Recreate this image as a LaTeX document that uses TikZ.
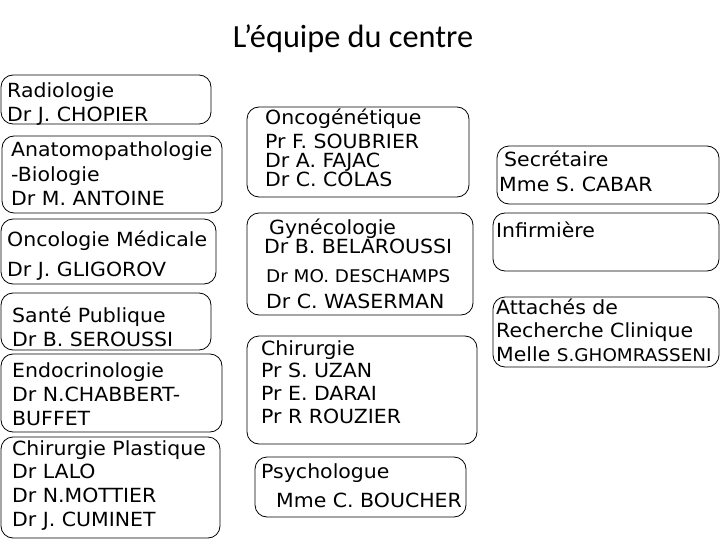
\documentclass[tikz,border=0pt]{standalone}
\usepackage{fontspec}
\setmainfont[FakeStretch=1.05]{DejaVu Sans}
\newfontfamily\titlefont{Carlito}
\usetikzlibrary{positioning}

\begin{document}
\begin{tikzpicture}[x=1pt,y=-1pt,
    box/.style={draw=black, line width=0.8pt, rounded corners=12pt},
    ln/.style={anchor=base west, inner sep=0pt, font=\fontsize{19.5}{23}\selectfont},
    lnsmall/.style={anchor=base west, inner sep=0pt, font=\fontsize{17.5}{21}\selectfont}]
    \useasboundingbox (0,0) rectangle (720,540);
    \fill[white] (0,0) rectangle (720,540);

    % titre
    \node[anchor=base, inner sep=0pt, font=\titlefont\fontsize{32.3}{38}\selectfont] (title) at (353,48) {L’équipe du centre};

    % 1. colonne gauche
    \draw[box] (1,75) rectangle (211,124);
    \node[ln] (radio1) at (7,98) {Radiologie};
    \node[ln] (radio2) at (7,122) {Dr J. CHOPIER};

    \draw[box] (2,136) rectangle (222,213);
    \node[ln] (anapath1) at (11,157) {Anatomopathologie};
    \node[ln] (anapath2) at (11,182) {-Biologie};
    \node[ln] (anapath3) at (11,206) {Dr M. ANTOINE};

    \draw[box] (1,219) rectangle (216,284);
    \node[ln] (oncomed1) at (7,246) {Oncologie Médicale};
    \node[ln] (oncomed2) at (7,276) {Dr J. GLIGOROV};

    \draw[box] (1,293) rectangle (211,350);
    \node[ln] (sante1) at (12,322) {Santé Publique};
    \node[ln] (sante2) at (12,346) {Dr B. SEROUSSI};

    \draw[box] (1,354) rectangle (222,432);
    \node[ln] (endo1) at (12,377) {Endocrinologie};
    \node[ln] (endo2) at (12,401) {Dr N.CHABBERT-};
    \node[ln] (endo3) at (12,425) {BUFFET};

    \draw[box] (1,437) rectangle (220,538);
    \node[ln] (plast1) at (12,455) {Chirurgie Plastique};
    \node[ln] (plast2) at (12,478) {Dr LALO};
    \node[ln] (plast3) at (12,502) {Dr N.MOTTIER};
    \node[ln] (plast4) at (12,526) {Dr J. CUMINET};

    % 2. colonne centrale
    \draw[box] (247,107) rectangle (469,197);
    \node[ln] (gen1) at (265,125) {Oncogénétique};
    \node[ln] (gen2) at (265,149) {Pr F. SOUBRIER};
    \node[ln] (gen3) at (265,168) {Dr A. FAJAC};
    \node[ln] (gen4) at (265,187) {Dr C. COLAS};

    \draw[box] (247,213) rectangle (473,315);
    \node[ln] (gyn1) at (269,235) {Gynécologie};
    \node[ln] (gyn2) at (264,253) {Dr B. BELAROUSSI};
    \node[lnsmall] (gyn3) at (266,282) {Dr MO. DESCHAMPS};
    \node[ln] (gyn4) at (266,308) {Dr C. WASERMAN};

    \draw[box] (247,336) rectangle (477,444);
    \node[ln] (chir1) at (261,355) {Chirurgie};
    \node[ln] (chir2) at (261,377) {Pr S. UZAN};
    \node[ln] (chir3) at (261,400) {Pr E. DARAI};
    \node[ln] (chir4) at (261,423) {Pr R ROUZIER};

    \draw[box] (255,457) rectangle (466,517);
    \node[ln] (psy1) at (261,478) {Psychologue};
    \node[ln] (psy2) at (276,507) {Mme C. BOUCHER};

    % 3. colonne droite
    \draw[box] (497,146) rectangle (719,204);
    \node[ln] (secr1) at (504,167) {Secrétaire};
    \node[ln] (secr2) at (499,192) {Mme S. CABAR};

    \draw[box] (493,213) rectangle (719,271);
    \node[ln] (inf1) at (496,237) {Infirmière};

    \draw[box] (493,297) rectangle (719,367);
    \node[ln] (arc1) at (496,314) {Attachés de};
    \node[ln] (arc2) at (496,337) {Recherche Clinique};
    \node[ln] (arc3) at (496,361) {Melle {\fontsize{17.5}{21}\selectfont S.GHOMRASSENI}};
\end{tikzpicture}
\end{document}
